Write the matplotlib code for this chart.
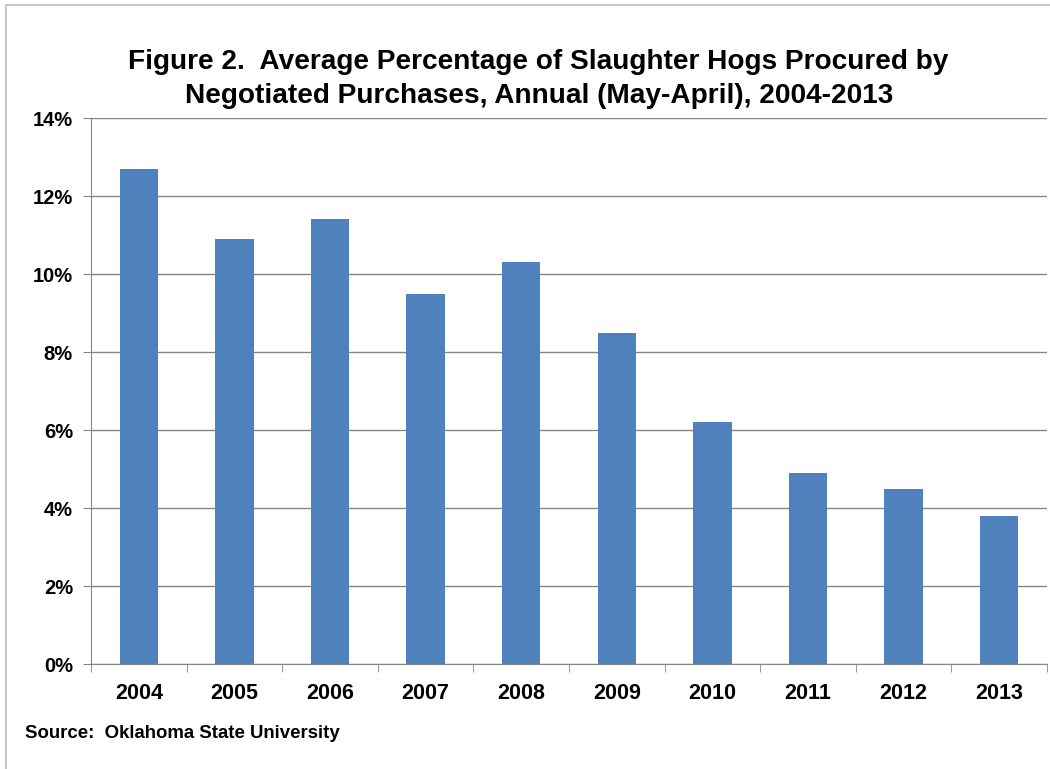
import matplotlib
matplotlib.use('Agg')
import matplotlib.pyplot as plt
from matplotlib.patches import Rectangle
from matplotlib.ticker import FuncFormatter

years = ['2004', '2005', '2006', '2007', '2008', '2009', '2010', '2011', '2012', '2013']
pct_negotiated = [12.7, 10.9, 11.4, 9.5, 10.3, 8.5, 6.2, 4.9, 4.5, 3.8]

plt.rcParams['font.family'] = ['Liberation Sans', 'DejaVu Sans']
plt.rcParams['font.weight'] = 'bold'

W, H = 1050, 769
fig = plt.figure(figsize=(W / 100, H / 100), dpi=100)
ax = fig.add_axes([91 / W, 1 - 664 / H, (1047 - 91) / W, (664 - 118) / H])

x = range(len(years))
ax.bar(x, pct_negotiated, width=0.4, color='#4F81BD', zorder=3)

ax.set_xlim(-0.5, len(years) - 0.5)
ax.set_ylim(0, 14)
ax.set_yticks(range(0, 15, 2))
ax.yaxis.set_major_formatter(FuncFormatter(lambda v, p: f'{int(v)}%'))
ax.set_xticks(x)
ax.set_xticklabels(years)
ax.set_xticks([i - 0.5 for i in range(len(years) + 1)], minor=True)

ax.grid(axis='y', color='#868686', linewidth=1, zorder=0)
for s in ['top', 'right']:
    ax.spines[s].set_visible(False)
for s in ['left', 'bottom']:
    ax.spines[s].set_color('#868686')
ax.tick_params(axis='y', length=6, color='#868686', labelsize=14.5, pad=7)
ax.tick_params(axis='x', which='major', length=0, labelsize=15.5, pad=14)
ax.tick_params(axis='x', which='minor', length=6, color='#868686')
for lbl in ax.get_xticklabels() + ax.get_yticklabels():
    lbl.set_fontweight('bold')

fig.text(0.513, 1 - 79 / H,
         'Figure 2.  Average Percentage of Slaughter Hogs Procured by\n'
         'Negotiated Purchases, Annual (May-April), 2004-2013',
         ha='center', va='center', fontsize=20.2, fontweight='bold', linespacing=1.42)
fig.text(25 / W, 1 - 733 / H, 'Source:  Oklahoma State University',
         ha='left', va='center', fontsize=13.4, fontweight='bold')

fig.patches.append(Rectangle((6 / W, -0.1), 1.2, 1 - 5 / H + 0.1, transform=fig.transFigure,
                             fill=False, edgecolor='#BFBFBF', linewidth=1.2))

fig.savefig('out.png', dpi=100)
